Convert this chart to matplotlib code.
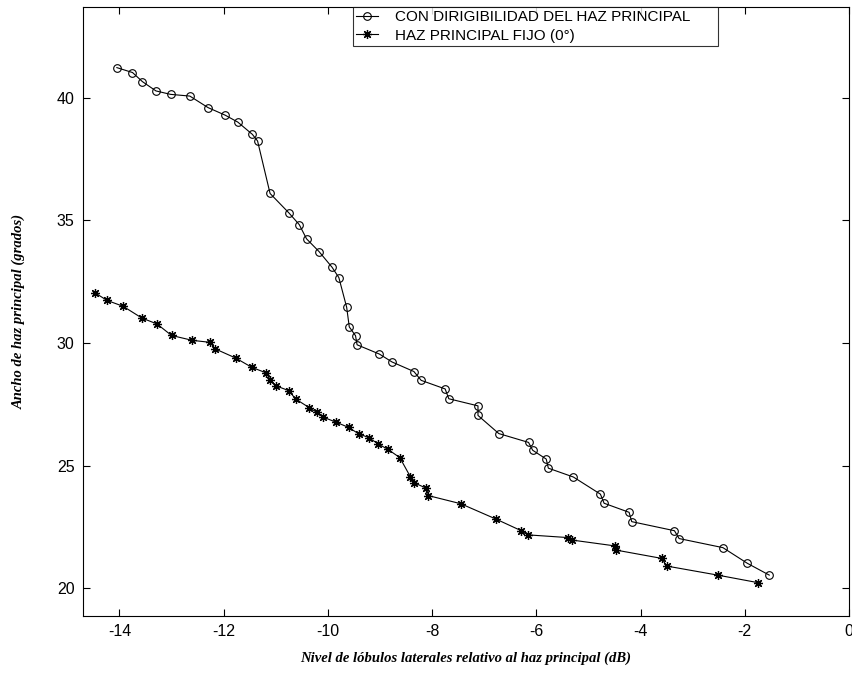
import matplotlib
matplotlib.use('Agg')
import matplotlib.pyplot as plt

# Beamwidth vs side lobe level
sll_steer = [-14.05, -13.75, -13.56, -13.30, -13.02, -12.65, -12.30, -11.97, -11.73,
             -11.45, -11.35, -11.11, -10.75, -10.55, -10.41, -10.17, -9.92, -9.79,
             -9.64, -9.59, -9.47, -9.44, -9.01, -8.77, -8.35, -8.21, -7.75, -7.68,
             -7.12, -7.12, -6.72, -6.15, -6.07, -5.81, -5.77, -5.29, -4.77, -4.70,
             -4.22, -4.17, -3.35, -3.26, -2.42, -1.95, -1.53]
bw_steer = [41.23, 41.03, 40.66, 40.28, 40.14, 40.07, 39.60, 39.29, 39.01,
            38.51, 38.24, 36.10, 35.31, 34.83, 34.25, 33.73, 33.09, 32.67,
            31.46, 30.66, 30.30, 29.93, 29.55, 29.23, 28.84, 28.48, 28.13, 27.73,
            27.44, 27.05, 26.31, 25.95, 25.63, 25.27, 24.90, 24.54, 23.84, 23.47,
            23.10, 22.72, 22.35, 22.03, 21.66, 21.02, 20.54]

sll_fixed = [-14.47, -14.24, -13.93, -13.57, -13.28, -13.00, -12.60, -12.26, -12.17,
             -11.77, -11.46, -11.18, -11.11, -11.00, -10.75, -10.62, -10.36, -10.21,
             -10.09, -9.85, -9.60, -9.41, -9.22, -9.03, -8.85, -8.62, -8.42, -8.35,
             -8.11, -8.07, -7.45, -6.77, -6.29, -6.16, -5.39, -5.32, -4.49, -4.47,
             -3.59, -3.50, -2.52, -1.74]
bw_fixed = [32.05, 31.74, 31.50, 31.02, 30.78, 30.31, 30.11, 30.03, 29.77,
            29.39, 29.01, 28.78, 28.51, 28.26, 28.06, 27.72, 27.37, 27.17,
            26.98, 26.78, 26.56, 26.30, 26.15, 25.88, 25.67, 25.33, 24.56, 24.31,
            24.08, 23.78, 23.45, 22.82, 22.35, 22.18, 22.07, 21.97, 21.73, 21.56,
            21.22, 20.91, 20.54, 20.23]

xticks = [-14, -12, -10, -8, -6, -4, -2, 0]
yticks = [20, 25, 30, 35, 40]

plt.rcParams['font.family'] = ['Liberation Sans', 'DejaVu Sans']
plt.rcParams['axes.unicode_minus'] = False

fig = plt.figure(figsize=(8.53, 6.77), dpi=100)
ax = fig.add_axes([0.0973, 0.090, 0.898, 0.8996])

ax.plot(sll_steer, bw_steer, color='black', linewidth=0.8, marker='o',
        markersize=5.5, markerfacecolor='none', markeredgewidth=0.8,
        label='CON DIRIGIBILIDAD DEL HAZ PRINCIPAL')
ax.plot(sll_fixed, bw_fixed, color='black', linewidth=0.8, marker=(8, 2, 0),
        markersize=6.5, markeredgewidth=0.9,
        label='HAZ PRINCIPAL FIJO (0°)')

ax.set_xlim(-14.7, 0)
ax.set_ylim(18.87, 43.7)
ax.set_xticks(xticks)
ax.set_yticks(yticks)
ax.tick_params(direction='in', length=5, width=0.8, top=True, right=True,
               labelsize=11.5, pad=6)
for s in ax.spines.values():
    s.set_linewidth(0.8)

ax.set_xlabel('Nivel de lóbulos laterales relativo al haz principal (dB)',
              family='Liberation Serif', style='italic', weight='bold',
              fontsize=10.5, labelpad=9)
ax.set_ylabel('Ancho de haz principal (grados)',
              family='Liberation Serif', style='italic', weight='bold',
              fontsize=10.5, labelpad=22)

# legend box spans roughly x=353..718 px, flush with the top of the axes
leg = ax.legend(loc='upper left', bbox_to_anchor=(0.352, 0.0, 0.4765, 1.0),
                mode='expand', fontsize=11, frameon=True, fancybox=False,
                handlelength=1.45, borderpad=0.22, labelspacing=0.28,
                handletextpad=1.1, borderaxespad=0)
leg.get_frame().set_edgecolor('black')
leg.get_frame().set_linewidth(0.8)

fig.savefig('out.png', dpi=100)
